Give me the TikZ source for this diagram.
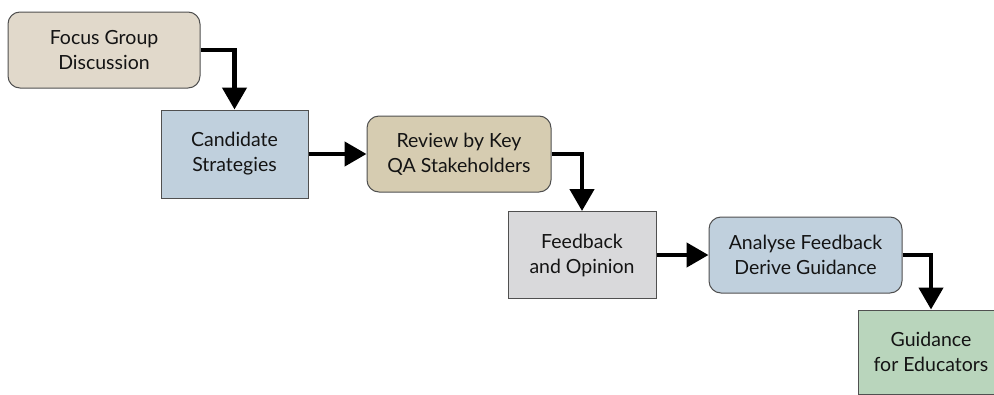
\documentclass[tikz,border=0pt]{standalone}
\usepackage{fontspec}
\setmainfont{Lato}
\usetikzlibrary{arrows.meta}
\definecolor{bordc}{HTML}{505050}
\definecolor{beige}{HTML}{E1D9CB}
\definecolor{tan}{HTML}{D6CCB1}
\definecolor{lblue}{HTML}{C0D0DD}
\definecolor{lgrey}{HTML}{D9D9DB}
\definecolor{lgreen}{HTML}{B9D5BC}
\tikzset{
  box/.style={draw=bordc, line width=1pt, align=center, font=\fontsize{19.5}{25}\selectfont, inner sep=0pt, text=black!92},
  rbox/.style={box, rounded corners=12pt},
  flow/.style={line width=4.5pt, -{Triangle[width=24pt,length=22pt]}}
}
\begin{document}
\begin{tikzpicture}[x=1pt,y=-1pt]
\useasboundingbox (0,0) rectangle (994,394);
\fill[white] (0,0) rectangle (994,394);
\begin{scope}
\clip (0,0) rectangle (994,394);
\node[rbox, fill=beige, minimum width=192pt, minimum height=76pt] (focus) at (104,50) {Focus Group\\Discussion};
\node[box, fill=lblue, minimum width=147pt, minimum height=88pt] (cand) at (234.5,154) {Candidate\\Strategies};
\node[rbox, fill=tan, minimum width=184pt, minimum height=76pt] (review) at (459,154) {Review by Key\\QA Stakeholders};
\node[box, fill=lgrey, minimum width=148pt, minimum height=87pt] (feed) at (582,255) {Feedback\\and Opinion};
\node[rbox, fill=lblue, minimum width=193pt, minimum height=76pt] (anal) at (805.5,255) {Analyse Feedback\\Derive Guidance};
\node[box, fill=lgreen, minimum width=146pt, minimum height=84pt] (guide) at (931,352) {Guidance\\for Educators};
\draw[flow] (focus.east) -| (cand.north);
\draw[flow] (cand.east) -- (review.west);
\draw[flow] (review.east) -| (feed.north);
\draw[flow] (feed.east) -- (anal.west);
\draw[flow] (anal.east) -| (guide.north);
\end{scope}
\end{tikzpicture}
\end{document}
